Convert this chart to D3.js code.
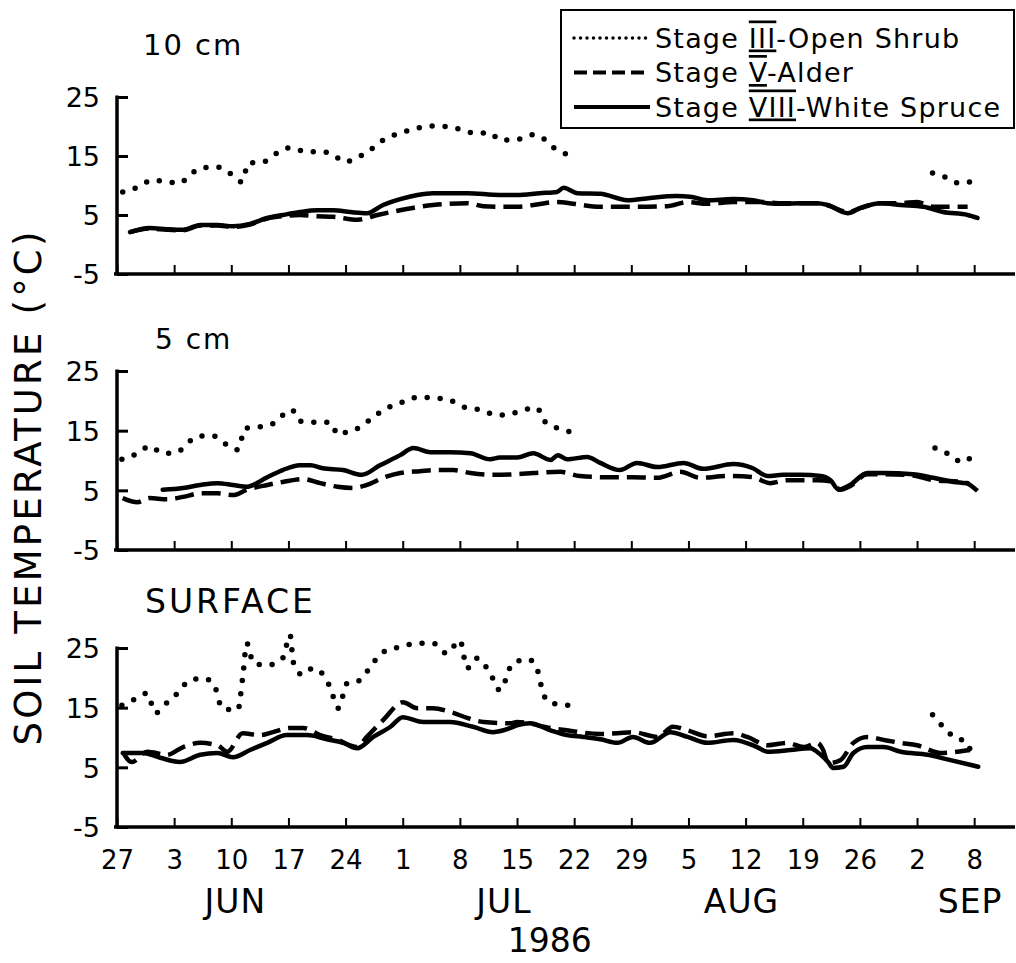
<!DOCTYPE html>
<html>
<head>
<meta charset="utf-8">
<script src="https://cdn.jsdelivr.net/npm/d3@7"></script>
<style>
  html, body { margin: 0; padding: 0; background: #fff; }
  svg { display: block; font-family: "DejaVu Sans", sans-serif; }
</style>
</head>
<body>
<svg id="chart" width="1016" height="963"></svg>
<script>
// ---------------- DATA (days after 27 May 1986, °C) ----------------
const tickDays = [0, 7, 14, 21, 28, 35, 42, 49, 56, 63, 70, 77, 84, 91, 98, 105];
const tickLabels = ["27", "3", "10", "17", "24", "1", "8", "15", "22", "29", "5", "12", "19", "26", "2", "8"];
const monthLabels = ["JUN", "JUL", "AUG", "SEP"];
const monthDays = [14.5, 47.4, 76.5, 104.5];
const yearLabel = "1986";
const yearDay = 53;
const yTicks = [-5, 5, 15, 25];
const panelLabels = ["10 cm", "5 cm", "SURFACE"];
const seriesNames = ["Stage III-Open Shrub", "Stage V-Alder", "Stage VIII-White Spruce"];

// 10 cm
const shrub10 = [[0.7,8.9],[2.5,9.7],[4.4,10.9],[6.1,10.6],[7.7,10.4],[8.9,11.8],[10.5,13.0],[12.3,13.1],[13.8,12.1],[15.3,10.6],[16.1,13.8],[17.9,14.0],[19.6,15.5],[21.2,16.4],[23.3,15.7],[25.2,15.7],[26.5,15.2],[27.9,14.0],[29.4,14.7],[31.0,16.0],[32.6,17.7],[34.7,18.9],[36.8,19.7],[38.7,20.1],[40.8,19.9],[42.4,19.4],[43.6,18.9],[45.7,18.9],[46.9,17.7],[49.0,17.8],[51.0,18.6],[52.2,18.0],[53.4,16.5],[55.3,15.2],[78,null],[99.9,12.1],[101.7,11.3],[103.1,10.4],[104.5,10.6]];
const alder10 = [[1.6,2.1],[4.0,2.7],[6.1,2.5],[8.1,2.4],[10.2,3.2],[12.3,3.2],[14.2,3.0],[16.3,3.4],[18.4,4.4],[20.3,4.8],[22.4,5.0],[24.5,4.8],[26.5,4.7],[29.5,4.2],[31.9,5.0],[34.7,5.8],[38.7,6.7],[42.9,7.0],[44.9,6.5],[46.9,6.4],[49.0,6.4],[51.0,6.7],[53.9,7.2],[55.9,6.9],[59.2,6.4],[63.2,6.4],[67.4,6.5],[69.9,7.2],[72.3,6.9],[75.5,7.2],[78.8,7.2],[81.6,7.0],[83.7,7.0],[85.8,7.0],[87.0,6.7],[89.5,5.5],[91.1,6.2],[93.5,7.0],[96.0,7.0],[98.0,7.2],[100.0,6.4],[104.2,6.4]];
const spruce10 = [[1.6,2.1],[4.0,2.8],[6.1,2.6],[8.1,2.5],[10.2,3.3],[12.3,3.3],[14.2,3.1],[16.3,3.5],[18.4,4.5],[20.3,5.0],[22.4,5.5],[24.5,5.8],[26.5,5.8],[28.6,5.5],[30.6,5.3],[32.6,6.7],[34.7,7.7],[36.8,8.4],[38.7,8.7],[42.9,8.7],[46.9,8.4],[49.0,8.4],[51.8,8.7],[53.9,8.9],[54.7,9.6],[56.4,8.7],[59.2,8.6],[62.5,7.5],[65.3,7.9],[68.6,8.2],[70.2,8.1],[72.3,7.5],[75.5,7.7],[77.9,7.5],[79.7,7.0],[81.6,6.9],[83.7,7.0],[85.8,7.0],[87.0,6.7],[89.5,5.3],[91.1,6.2],[93.5,7.0],[96.0,6.7],[98.8,6.4],[101.2,5.5],[104.2,5.0],[105.4,4.5]];

// 5 cm
const shrub5 = [[0.6,10.2],[2.5,11.2],[4.0,12.4],[5.6,11.2],[7.4,11.4],[8.6,12.9],[10.2,14.1],[11.8,14.1],[13.5,12.6],[14.8,11.8],[15.7,15.4],[17.2,15.6],[18.7,15.9],[20.3,17.6],[21.4,18.5],[22.4,16.6],[24.0,16.4],[26.1,16.4],[27.1,14.3],[28.2,14.8],[29.8,15.6],[31.4,17.3],[33.1,18.8],[35.0,19.8],[36.8,20.6],[38.7,20.5],[40.8,20.1],[42.4,19.0],[44.5,18.5],[46.6,17.6],[48.5,17.9],[49.8,18.5],[51.5,18.8],[52.2,16.8],[54.0,15.4],[55.5,14.8],[78,null],[100.2,12.1],[101.7,11.2],[103.6,9.7],[104.5,10.4]];
const alder5 = [[0.7,3.7],[2.5,3.0],[4.0,3.7],[6.1,3.5],[8.1,3.9],[10.2,4.5],[12.3,4.5],[14.2,4.2],[15.9,5.1],[18.4,5.9],[20.3,6.4],[22.8,6.9],[24.9,6.2],[27.0,5.6],[28.9,5.4],[30.6,5.9],[32.6,7.1],[34.7,7.9],[37.1,8.2],[39.2,8.4],[41.2,8.4],[43.3,7.9],[46.1,7.6],[49.0,7.7],[51.0,7.9],[54.3,8.1],[56.7,7.4],[60.0,7.2],[63.2,7.2],[66.2,7.1],[69.0,8.1],[71.4,7.1],[74.8,7.4],[77.9,7.2],[80.0,6.2],[82.1,6.7],[85.8,6.7],[87.4,6.5],[88.6,5.1],[89.8,5.7],[91.9,7.7],[93.9,7.7],[97.5,7.5],[100.0,6.7],[103.7,6.4],[105.4,4.9]];
const spruce5 = [[5.6,5.1],[8.1,5.4],[10.2,5.9],[12.3,6.2],[14.2,5.9],[15.9,5.6],[18.4,7.2],[20.3,8.4],[22.4,9.2],[23.7,9.2],[25.2,8.7],[27.7,8.4],[30.0,7.6],[32.2,9.2],[34.7,10.9],[36.3,12.1],[38.4,11.4],[40.8,11.4],[43.3,11.2],[45.7,10.2],[46.9,10.5],[49.0,10.5],[51.0,11.2],[53.1,10.1],[54.0,10.9],[55.1,10.2],[57.6,10.6],[59.2,9.6],[61.6,8.4],[63.7,9.6],[66.2,8.9],[69.4,9.6],[71.8,8.6],[75.5,9.4],[77.9,8.7],[79.7,7.4],[81.6,7.6],[83.7,7.6],[86.2,7.4],[87.4,6.7],[88.4,5.1],[89.8,5.9],[91.9,7.9],[93.9,7.9],[97.5,7.7],[100.0,7.1],[102.5,6.4],[104.2,6.2]];

// Surface
const shrubS = [[0.6,15.4],[2.0,16.3],[3.7,17.4],[4.7,14.1],[6.1,15.8],[7.4,17.4],[8.9,19.6],[10.5,19.9],[11.8,19.1],[12.9,14.9],[14.8,14.6],[15.4,20.1],[15.9,25.8],[16.7,22.5],[18.4,22.1],[20.3,23.3],[21.2,27.2],[21.6,22.6],[22.7,20.5],[24.0,21.6],[25.7,19.6],[26.5,16.8],[27.1,14.9],[28.2,19.1],[29.8,19.6],[31.0,21.8],[32.6,24.3],[34.7,25.2],[36.8,25.8],[38.7,25.8],[40.4,24.1],[42.0,26.3],[42.9,21.6],[44.1,23.3],[45.7,20.8],[46.9,17.9],[48.5,22.5],[50.4,23.1],[51.5,21.3],[52.2,17.4],[53.1,15.8],[55.5,15.4],[78,null],[99.9,13.8],[101.2,11.8],[102.5,10.1],[104.2,9.1],[104.5,7.9]];
const alderS = [[0.7,7.6],[1.8,5.9],[3.7,7.6],[6.1,7.1],[8.1,8.4],[10.2,9.1],[12.3,8.7],[13.5,7.6],[15.4,10.7],[17.5,10.4],[19.1,10.9],[21.2,11.6],[22.8,11.6],[24.9,10.4],[27.0,9.6],[29.4,8.4],[30.6,10.1],[32.6,12.9],[35.0,15.9],[36.8,14.9],[38.7,14.9],[40.8,14.3],[42.9,13.3],[44.9,12.6],[48.2,12.4],[49.0,12.6],[53.1,11.6],[55.1,11.2],[59.2,10.6],[61.3,10.7],[63.2,10.9],[66.2,10.1],[68.1,11.8],[69.9,11.2],[72.3,10.2],[75.5,10.7],[77.2,10.1],[79.7,8.7],[82.1,9.1],[84.1,8.4],[85.8,9.1],[86.5,7.9],[87.1,5.7],[88.6,6.2],[90.2,9.1],[91.9,10.1],[93.9,9.6],[96.0,9.1],[98.0,8.7],[100.9,7.4],[102.9,7.6],[104.5,7.9]];
const spruceS = [[0.7,7.4],[3.2,7.4],[5.3,6.6],[7.7,5.9],[10.2,7.1],[12.3,7.4],[14.2,6.7],[16.3,7.9],[18.4,9.1],[20.8,10.4],[23.3,10.4],[25.7,9.7],[27.7,9.1],[29.4,8.2],[31.4,10.1],[33.5,11.8],[35.0,13.4],[37.5,12.6],[40.8,12.6],[43.6,11.8],[46.1,10.9],[48.2,11.6],[49.1,12.1],[50.6,12.4],[53.1,11.2],[55.1,10.4],[57.1,10.1],[59.2,9.7],[61.3,9.1],[63.2,10.1],[65.3,9.1],[67.8,10.9],[69.9,10.1],[72.3,9.1],[75.5,9.6],[78.4,8.4],[79.7,7.6],[82.5,7.9],[84.9,8.2],[86.2,7.1],[87.1,5.9],[87.7,4.9],[89.0,5.1],[90.2,7.4],[91.9,8.4],[93.9,8.4],[96.0,7.6],[99.3,7.1],[102.1,6.2],[105.5,5.1]];

// ---------------- DRAWING ----------------
const svg = d3.select("#chart");
svg.append("rect").attr("width", 1016).attr("height", 963).attr("fill", "#fff");

const x = d3.scaleLinear().domain([0, 110]).range([117, 1015]);

const styles = [
  { width: 5.5, dash: "0 13", cap: "round" },     // dotted - Stage III
  { width: 4.5, dash: "19 8", cap: "butt" },      // dashed - Stage V
  { width: 4.5, dash: null, cap: "round" }        // solid - Stage VIII
];

const panels = [
  { label: panelLabels[0], top: 97, bottom: 274, data: [shrub10, alder10, spruce10], lx: 143, ly: 55, fs: 29, ls: 2 },
  { label: panelLabels[1], top: 371, bottom: 550, data: [shrub5, alder5, spruce5], lx: 155, ly: 349, fs: 28, ls: 2 },
  { label: panelLabels[2], top: 648, bottom: 827, data: [shrubS, alderS, spruceS], lx: 145, ly: 613, fs: 33, ls: 3 }
];

panels.forEach((p, pi) => {
  const y = d3.scaleLinear().domain([-5, 25]).range([p.bottom, p.top]);
  const g = svg.append("g");

  // x axis (ticks pointing up)
  const xAxis = d3.axisBottom(x).tickValues(tickDays).tickSize(-9).tickSizeOuter(0)
    .tickFormat((d, i) => pi === 2 ? tickLabels[i] : "");
  const xa = g.append("g").attr("transform", `translate(0,${p.bottom})`).call(xAxis);
  xa.select(".domain").attr("stroke", "#000").attr("stroke-width", 3.5)
    .attr("d", `M${x(0) - 3},0H${x(110)}`);
  xa.selectAll(".tick line").attr("stroke", "#000").attr("stroke-width", 2);
  xa.selectAll(".tick text").attr("fill", "#000").attr("font-size", 26)
    .attr("font-family", "DejaVu Sans, sans-serif").attr("y", 24).attr("dy", "0.71em");

  // y axis (ticks pointing right)
  const yAxis = d3.axisLeft(y).tickValues(yTicks).tickSize(-11).tickSizeOuter(0).tickPadding(17)
    .tickFormat(d => String(d));
  const ya = g.append("g").attr("transform", `translate(${x(0)},0)`).call(yAxis);
  ya.select(".domain").attr("stroke", "#000").attr("stroke-width", 3.5)
    .attr("d", `M0,${y(25) - 1.5}V${y(-5)}`);
  ya.selectAll(".tick line").attr("stroke", "#000").attr("stroke-width", 3);
  ya.selectAll(".tick text").attr("fill", "#000").attr("font-size", 27)
    .attr("font-family", "DejaVu Sans, sans-serif").attr("dy", "0.36em");

  // panel label
  g.append("text").attr("x", p.lx).attr("y", p.ly).attr("font-size", p.fs)
    .attr("letter-spacing", p.ls).attr("fill", "#000").text(p.label);

  // series (solid first, dotted on top)
  const line = d3.line().defined(d => d[1] != null)
    .x(d => x(d[0])).y(d => y(d[1])).curve(d3.curveMonotoneX);
  [2, 1, 0].forEach(si => {
    const s = styles[si];
    g.append("path").datum(p.data[si]).attr("d", line)
      .attr("fill", "none").attr("stroke", "#000")
      .attr("stroke-width", s.width)
      .attr("stroke-linecap", s.cap)
      .attr("stroke-linejoin", "round")
      .attr("stroke-dasharray", s.dash);
  });
});

// month labels & year
svg.append("g").selectAll("text").data(monthLabels).join("text")
  .attr("x", (d, i) => x(monthDays[i])).attr("y", 913)
  .attr("text-anchor", "middle").attr("font-size", 33).attr("letter-spacing", 1)
  .attr("fill", "#000").text(d => d);
svg.append("text").attr("x", x(yearDay)).attr("y", 952)
  .attr("text-anchor", "middle").attr("font-size", 33).attr("fill", "#000").text(yearLabel);

// y axis title
svg.append("text").attr("transform", "translate(41,487) rotate(-90)")
  .attr("text-anchor", "middle").attr("font-size", 37).attr("letter-spacing", 3.2)
  .attr("fill", "#000").text("SOIL TEMPERATURE (°C)");

// legend
const lg = svg.append("g");
lg.append("rect").attr("x", 561).attr("y", 10).attr("width", 453).attr("height", 118)
  .attr("fill", "#fff").attr("stroke", "#000").attr("stroke-width", 2);
const legStyles = [
  { width: 3.5, dash: "0 6.5", cap: "round" },
  { width: 4, dash: "13 6", cap: "butt" },
  { width: 4, dash: null, cap: "butt" }
];
const roman = ["III", "V", "VIII"];
const rest = ["-Open Shrub", "-Alder", "-White Spruce"];
seriesNames.forEach((name, i) => {
  const cy = 38 + i * 34.5;
  const s = legStyles[i];
  lg.append("line").attr("x1", 574).attr("x2", 650).attr("y1", cy).attr("y2", cy)
    .attr("stroke", "#000").attr("stroke-width", s.width)
    .attr("stroke-linecap", s.cap).attr("stroke-dasharray", s.dash);
  const t = lg.append("text").attr("x", 655).attr("y", cy + 9.5)
    .attr("font-size", 27).attr("letter-spacing", 1.2).attr("fill", "#000");
  t.append("tspan").text("Stage ");
  t.append("tspan").attr("text-decoration", "underline overline")
    .style("text-decoration", "underline overline").text(roman[i]);
  t.append("tspan").text(rest[i]);
});
</script>
</body>
</html>
